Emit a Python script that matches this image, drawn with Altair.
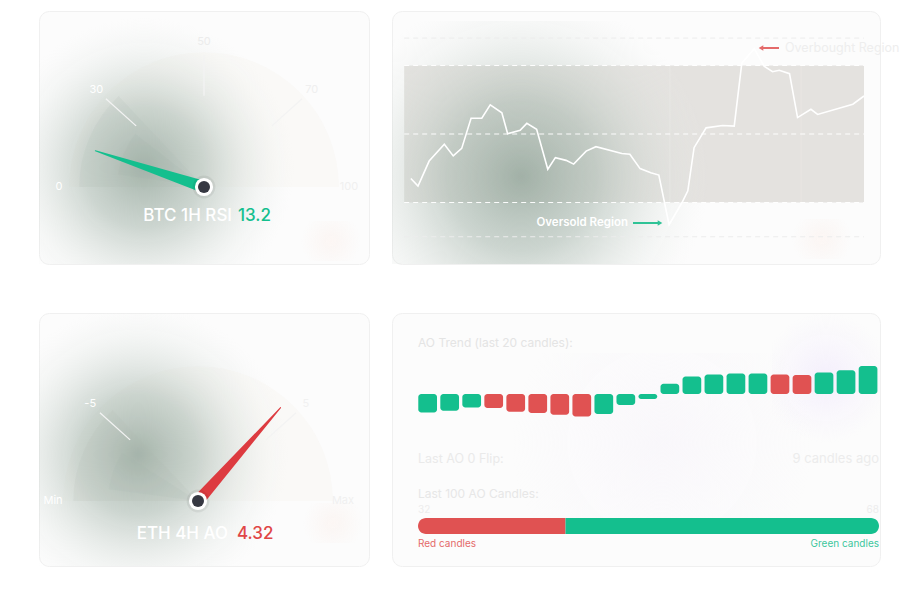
import altair as alt
import pandas as pd

# ---------------- data ----------------
rsi_name = "BTC 1H RSI"
rsi_value = 13.2
rsi_tick_values = [0, 30, 50, 70, 100]
rsi_tick_labels = ["0", "30", "50", "70", "100"]
rsi_tick_lines = [30, 50, 70]

ao_name = "ETH 4H AO"
ao_value = 4.32
ao_min, ao_max = -9.375, 9.375
ao_tick_values = [ao_min, -5, 5, ao_max]
ao_tick_labels = ["Min", "-5", "5", "Max"]
ao_tick_lines = [-5, 5]

rsi_time = [-1.6, 0.0, 2.5, 5.9, 7.9, 9.8, 11.9, 14.3, 16.2, 18.8,
            20.1, 22.9, 24.4, 26.6, 29.1, 30.8, 33.2, 34.9, 37.7, 39.9,
            45.7, 47.5, 49.8, 52.2, 54.0, 56.3, 59.2, 60.5, 61.9, 64.6,
            68.3, 70.9, 72.6, 75.4, 77.6, 79.5, 81.0, 83.3, 85.1, 88.1,
            89.6, 97.5, 100.0]
rsi_series = [37.0, 34.8, 42.1, 47.0, 43.6, 45.8, 54.6, 54.6, 58.5, 56.2,
              50.1, 51.1, 53.1, 51.4, 39.7, 43.1, 42.3, 41.2, 45.0, 46.3,
              44.3, 44.1, 39.9, 38.7, 38.0, 23.5, 30.0, 33.4, 46.0, 51.8,
              52.5, 52.3, 70.7, 74.9, 69.8, 68.2, 68.6, 67.6, 54.8, 57.2,
              55.7, 58.7, 61.1]
rsi_band = [30, 70]
rsi_mid = [50]
rsi_outer = [20, 78]

ao_trend = [-2.84, -2.58, -2.07, -2.16, -2.73, -2.93, -3.19, -3.46, -3.09, -1.70,
            -0.77, 1.60, 2.69, 2.99, 3.15, 3.16, 3.00, 2.95, 3.30, 3.66, 4.32]
ao_trend_dir = ["up", "up", "up", "down", "down", "down", "down", "down", "up", "up",
                "up", "up", "up", "up", "up", "up", "down", "down", "up", "up", "up"]
last100_kind = ["red", "green"]
last100_count = [32, 68]

# ---------------- style / layout ----------------
FONT = "Inter"
GREEN = "#14bf8e"
RED = "#e05252"
NEEDLE_RED = "#dd3b40"
W_L, W_R, H = 330, 488, 253
R = 145.0

GLOW = [(0, "rgba(150,168,157,0.85)"), (0.4, "rgba(172,187,178,0.6)"),
        (0.72, "rgba(205,214,208,0.28)"), (1, "rgba(235,238,236,0)")]
PEACH = [(0, "rgba(250,220,208,0.2)"), (1, "rgba(250,220,208,0)")]
LAV = [(0, "rgba(236,226,252,0.5)"), (1, "rgba(240,232,252,0)")]


def glow_rect(x0, x1, y0, y1, stops, fx=0.5, fy=0.5, r=0.5):
    grad = {"gradient": "radial", "x1": fx, "y1": fy, "r1": 0,
            "x2": fx, "y2": fy, "r2": r,
            "stops": [{"offset": o, "color": c} for o, c in stops]}
    return alt.Chart(pd.DataFrame({"k": [0]})).mark_rect(fill=grad, strokeWidth=0).encode(
        x=alt.value(x0), x2=alt.value(x1), y=alt.value(y0), y2=alt.value(y1))


def label(text, x, y, color, size, align="left", weight=400):
    return alt.Chart(pd.DataFrame({"t": [text]})).mark_text(
        align=align, baseline="middle", fontSize=size, color=color, font=FONT, fontWeight=weight
    ).encode(text="t:N", x=alt.value(x), y=alt.value(y))


def angle_expr(field, dom, rng):
    expr = str(rng[-1])
    for i in range(len(dom) - 2, -1, -1):
        seg = f"({rng[i]} + ({field} - ({dom[i]})) * (({rng[i+1]}) - ({rng[i]})) / (({dom[i+1]}) - ({dom[i]})))"
        expr = f"({field} <= {dom[i+1]} ? {seg} : {expr})"
    return expr


def gauge(value, fmt, color, val_color, name, tvals, tlabels, tcolors, tlines, dom, rng,
          cx, cy, needle_len, name_right, val_left, text_y, glow, blob_box, wedges):
    xs = alt.Scale(domain=[-cx / R, (W_L - cx) / R], nice=False, zero=False)
    ys = alt.Scale(domain=[-(H - cy) / R, cy / R], nice=False, zero=False)

    def ang(f):
        return angle_expr(f, dom, rng)

    def XY(xf, yf):
        return dict(x=alt.X(xf, type="quantitative", scale=xs, axis=None),
                    y=alt.Y(yf, type="quantitative", scale=ys, axis=None))

    layers = []
    face = alt.Chart(pd.DataFrame({"a0": [dom[0]], "a1": [dom[-1]], "c": [0.0]})).transform_calculate(
        t0=f"(90 - {ang('datum.a0')}) * PI / 180",
        t1=f"(90 - {ang('datum.a1')}) * PI / 180",
    ).mark_arc(radius=0.93 * R, fill="#f4f1ec", opacity=0.3).encode(
        theta=alt.Theta("t0:Q", scale=None), theta2=alt.Theta2("t1:Q"), **XY("c", "c"))
    layers.append(face)
    layers.append(glow_rect(*glow[:4], GLOW, *glow[4:]))
    layers.append(glow_rect(*blob_box, PEACH))
    for (v0, v1, ri, ro, col, op) in wedges:
        w = alt.Chart(pd.DataFrame({"a0": [v0], "a1": [v1], "c": [0.0]})).transform_calculate(
            t0=f"(90 - {ang('datum.a0')}) * PI / 180",
            t1=f"(90 - {ang('datum.a1')}) * PI / 180",
        ).mark_arc(radius=ro * R, radius2=ri * R, fill=col, opacity=op).encode(
            theta=alt.Theta("t0:Q", scale=None), theta2=alt.Theta2("t1:Q"), **XY("c", "c"))
        layers.append(w)
    tl = alt.Chart(pd.DataFrame({"v": tlines})).transform_calculate(
        a=ang("datum.v")
    ).transform_calculate(
        x1="0.63*cos(datum.a*PI/180)", y1="0.63*sin(datum.a*PI/180)",
        x2="0.91*cos(datum.a*PI/180)", y2="0.91*sin(datum.a*PI/180)",
    ).mark_rule(color="#f3f3f3", strokeWidth=1.3).encode(
        x2=alt.X2("x2:Q"), y2=alt.Y2("y2:Q"), **XY("x1", "y1"))
    layers.append(tl)
    lab = alt.Chart(pd.DataFrame({"v": tvals, "lab": tlabels, "col": tcolors})).transform_calculate(
        a=ang("datum.v")
    ).transform_calculate(
        lx="1.0*cos(datum.a*PI/180)", ly="1.0*sin(datum.a*PI/180)"
    ).mark_text(fontSize=11, font=FONT, baseline="middle", align="center").encode(
        text="lab:N", color=alt.Color("col:N", scale=None), **XY("lx", "ly"))
    layers.append(lab)
    nd = alt.Chart(pd.DataFrame({"v": [value, value], "r": [0.0, needle_len], "w": [12.0, 1.0]})).transform_calculate(
        a=ang("datum.v")
    ).transform_calculate(
        nx="datum.r*cos(datum.a*PI/180)", ny="datum.r*sin(datum.a*PI/180)"
    ).mark_trail(color=color).encode(
        size=alt.Size("w:Q", scale=None, legend=None), order=alt.Order("r:Q"), **XY("nx", "ny"))
    layers.append(nd)
    c = pd.DataFrame({"c": [0.0]})
    layers.append(alt.Chart(c).mark_point(filled=True, size=520, color="#000000", opacity=0.06).encode(**XY("c", "c")))
    layers.append(alt.Chart(c).mark_point(filled=True, size=330, color="#ffffff", opacity=1).encode(**XY("c", "c")))
    layers.append(alt.Chart(c).mark_point(filled=True, size=145, color="#363842", opacity=1).encode(**XY("c", "c")))
    layers.append(label(name, name_right, text_y, "#ffffff", 17, align="right", weight=500))
    layers.append(alt.Chart(pd.DataFrame({"v": [value]})).mark_text(
        align="left", baseline="middle", fontSize=17, color=val_color, font=FONT, fontWeight=500
    ).encode(text=alt.Text("v:Q", format=fmt), x=alt.value(val_left), y=alt.value(text_y)))
    return alt.layer(*layers).properties(width=W_L, height=H)


g1 = gauge(rsi_value, ".1f", GREEN, GREEN, rsi_name, rsi_tick_values, rsi_tick_labels,
           ["#ffffff", "#ffffff", "#ececec", "#efefef", "#f0f0f0"], rsi_tick_lines,
           [0, 30, 50, 70, 100], [180, 138, 90, 42, 0],
           165, 176, 0.79, 193, 199, 205,
           (0, 300, 0, 253, 0.35, 0.6, 0.5), (262, 322, 210, 250),
           [(0, 32, 0.0, 0.86, "#a9b7ae", 0.14), (6, 27, 0.0, 0.6, "#9eada3", 0.12)])

g2 = gauge(ao_value, ".2f", NEEDLE_RED, "#e04646", ao_name, ao_tick_values, ao_tick_labels,
           ["#ffffff", "#ffffff", "#f1f1f1", "#f0f0f0"], ao_tick_lines,
           [ao_min, ao_max], [180, 0],
           159, 188, 0.86, 189, 198, 221,
           (0, 300, 0, 253, 0.33, 0.55, 0.5), (264, 324, 190, 230),
           [(ao_min, -4.5, 0.0, 0.86, "#a9b7ae", 0.12), (-8.6, -6.0, 0.0, 0.62, "#9eada3", 0.1)])

# ---------------- RSI line panel ----------------
x_px0, x_ppu = 26.0, 4.46
y_px50, y_ppu = 123.0, 3.425
xs_r = alt.Scale(domain=[-x_px0 / x_ppu, (W_R - x_px0) / x_ppu], nice=False, zero=False)
ys_r = alt.Scale(domain=[50 - (H - y_px50) / y_ppu, 50 + y_px50 / y_ppu], nice=False, zero=False)
band_x0, band_x1 = -3.1, 100.0

band = alt.Chart(pd.DataFrame({"x0": [band_x0], "x1": [band_x1], "lo": [rsi_band[0]], "hi": [rsi_band[1]]})).mark_rect(
    color="#e4e2df").encode(
    x=alt.X("x0:Q", scale=xs_r, axis=None), x2="x1:Q",
    y=alt.Y("lo:Q", scale=ys_r, axis=None), y2="hi:Q")

vgrid = alt.Chart(pd.DataFrame({"t": [56.5, 85.9], "lo": [30, 30], "hi": [70, 70]})).mark_rule(
    color="#ebe9e6", strokeWidth=1, opacity=0.6).encode(
    x=alt.X("t:Q", scale=xs_r, axis=None), y=alt.Y("lo:Q", scale=ys_r, axis=None), y2="hi:Q")

inner_lv = alt.Chart(pd.DataFrame({"lvl": rsi_band + rsi_mid, "x0": band_x0, "x1": band_x1})).mark_rule(
    color="#ffffff", strokeWidth=1, strokeDash=[5, 4], opacity=0.95).encode(
    x=alt.X("x0:Q", scale=xs_r, axis=None), x2="x1:Q", y=alt.Y("lvl:Q", scale=ys_r, axis=None))

outer_lv = alt.Chart(pd.DataFrame({"lvl": rsi_outer, "x0": band_x0, "x1": band_x1})).mark_rule(
    color="#ececec", strokeWidth=1, strokeDash=[5, 4]).encode(
    x=alt.X("x0:Q", scale=xs_r, axis=None), x2="x1:Q", y=alt.Y("lvl:Q", scale=ys_r, axis=None))

rsi_line = alt.Chart(pd.DataFrame({"t": rsi_time, "rsi": rsi_series})).mark_line(
    color="#ffffff", strokeWidth=1.6).encode(
    x=alt.X("t:Q", scale=xs_r, axis=None), y=alt.Y("rsi:Q", scale=ys_r, axis=None))


def arrow(x0, x1, y, color, head_at_left):
    shaft = alt.Chart(pd.DataFrame({"k": [0]})).mark_rule(color=color, strokeWidth=2).encode(
        x=alt.value(x0), x2=alt.value(x1), y=alt.value(y))
    hx = x0 if head_at_left else x1
    head = alt.Chart(pd.DataFrame({"k": [0]})).mark_point(
        shape="triangle-left" if head_at_left else "triangle-right",
        filled=True, size=28, color=color, opacity=1).encode(x=alt.value(hx), y=alt.value(y))
    return [shaft, head]


rsi_panel = alt.layer(
    band,
    glow_rect(0, 340, 10, 253, GLOW, 0.38, 0.6, 0.55),
    glow_rect(400, 460, 208, 248, PEACH),
    vgrid, outer_lv, inner_lv, rsi_line,
    *arrow(369, 387, 37, "#e46a6a", True),
    label("Overbought Region", 393, 37, "#eeeeee", 12.5),
    label("Oversold Region", 236, 212, "#ffffff", 11.5, align="right", weight=600),
    *arrow(241, 268, 212, "#2fc396", False),
).properties(width=W_R, height=H)

# ---------------- AO trend panel ----------------
a_px0, a_ppu = 35.65, 22.02
z_px, z_ppu = 81.0, 6.48
xs_a = alt.Scale(domain=[-a_px0 / a_ppu, (W_R - a_px0) / a_ppu], nice=False, zero=False)
ys_a = alt.Scale(domain=[-(H - z_px) / z_ppu, z_px / z_ppu], nice=False, zero=False)
c_px0, c_ppu = 26.0, 4.61
xs_c = alt.Scale(domain=[-c_px0 / c_ppu, (W_R - c_px0) / c_ppu], nice=False, zero=False)

ao_df = pd.DataFrame({"i": list(range(len(ao_trend))), "ao": ao_trend, "dir": ao_trend_dir})
ao_bars = alt.Chart(ao_df).transform_calculate(
    x0="datum.i - 0.425", x1="datum.i + 0.425", base="0"
).mark_rect(cornerRadius=3).encode(
    x=alt.X("x0:Q", scale=xs_a, axis=None), x2="x1:Q",
    y=alt.Y("base:Q", scale=ys_a, axis=None), y2="ao:Q",
    color=alt.Color("dir:N", scale=alt.Scale(domain=["up", "down"], range=[GREEN, RED]), legend=None))

cnt = alt.Chart(pd.DataFrame({"kind": last100_kind, "n": last100_count, "o": [0, 1]})).transform_window(
    cum="sum(n)", sort=[alt.SortField("o")]
).transform_calculate(start="datum.cum - datum.n")
red_bar = cnt.transform_filter("datum.kind == 'red'").mark_rect(
    color=RED, cornerRadiusTopLeft=8, cornerRadiusBottomLeft=8).encode(
    x=alt.X("start:Q", scale=xs_c, axis=None), x2="cum:Q", y=alt.value(205), y2=alt.value(221))
green_bar = cnt.transform_filter("datum.kind == 'green'").mark_rect(
    color=GREEN, cornerRadiusTopRight=8, cornerRadiusBottomRight=8).encode(
    x=alt.X("start:Q", scale=xs_c, axis=None), x2="cum:Q", y=alt.value(205), y2=alt.value(221))

flip_idx = max(i for i in range(1, len(ao_trend)) if (ao_trend[i] > 0) != (ao_trend[i - 1] > 0))
flip_ago = len(ao_trend) - 1 - flip_idx

ao_panel = alt.layer(
    glow_rect(380, 488, 0, 130, LAV),
    glow_rect(120, 420, 40, 220, [(0, "rgba(246,242,250,0.45)"), (1, "rgba(246,242,250,0)")]),
    ao_bars, red_bar, green_bar,
    label(f"AO Trend (last {len(ao_trend) - 1} candles):", 26, 30, "#e4e4e4", 12),
    label("Last AO 0 Flip:", 26, 146, "#eaeaea", 12.5),
    label(f"{flip_ago} candles ago", 487, 146, "#ececec", 13, align="right"),
    label("Last 100 AO Candles:", 26, 181, "#e7e7e7", 12),
    label(str(last100_count[0]), 26, 197, "#ededed", 10),
    label(str(last100_count[1]), 487, 197, "#ededed", 10, align="right"),
    label("Red candles", 26, 231, "#e46a6a", 10),
    label("Green candles", 487, 231, "#3cc79d", 10, align="right"),
).resolve_scale(x="independent").properties(width=W_R, height=H)

chart = alt.concat(
    g1, rsi_panel, g2, ao_panel,
    columns=2, spacing={"row": 49, "column": 23}, bounds="flush",
).properties(
    padding={"left": 38, "top": 10, "right": 0, "bottom": 0},
    background="#ffffff",
).configure_view(fill="#fcfcfc", stroke="#f0f0f0", strokeWidth=1, cornerRadius=10)

chart.save("out.html", embed_options={"renderer": "svg", "actions": False})
